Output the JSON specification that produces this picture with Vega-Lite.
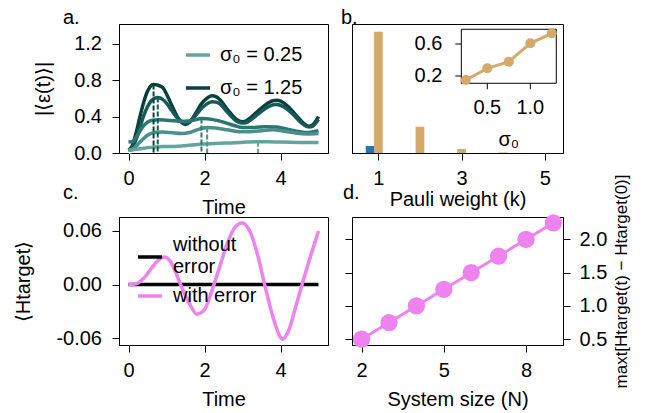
{
  "$schema": "https://vega.github.io/schema/vega-lite/v6.json",
  "background": "white",
  "padding": {"left": 13, "top": 7, "right": 0, "bottom": 0},
  "config": {
    "font": "Liberation Sans",
    "view": {"stroke": "black", "strokeWidth": 1},
    "axis": {"grid": false, "domainColor": "black", "tickColor": "black", "tickSize": 7, "tickWidth": 1, "labelFontSize": 20, "titleFontSize": 20, "labelColor": "black", "titleColor": "black", "titleFontWeight": "normal", "labelPadding": 10.5, "labelFont": "Liberation Sans", "titleFont": "Liberation Sans", "labelFlush": false, "labelOverlap": false},
    "axisX": {"labelPadding": 8.5},
    "legend": {"labelFontSize": 20, "labelFont": "Liberation Sans", "labelColor": "black", "padding": 0},
    "title": {"fontSize": 20, "fontWeight": "normal", "color": "black", "anchor": "start", "font": "Liberation Sans"}
  },
  "datasets": {
    "eps": [
      {"s":"1.25","t":0,"v":0.03},{"s":"1.25","t":0.1,"v":0.08},{"s":"1.25","t":0.2,"v":0.22},{"s":"1.25","t":0.3,"v":0.40},{"s":"1.25","t":0.4,"v":0.56},{"s":"1.25","t":0.5,"v":0.68},{"s":"1.25","t":0.6,"v":0.745},{"s":"1.25","t":0.66,"v":0.755},{"s":"1.25","t":0.75,"v":0.75},{"s":"1.25","t":0.9,"v":0.72},{"s":"1.25","t":1.0,"v":0.65},{"s":"1.25","t":1.1,"v":0.56},{"s":"1.25","t":1.2,"v":0.47},{"s":"1.25","t":1.3,"v":0.39},{"s":"1.25","t":1.4,"v":0.335},{"s":"1.25","t":1.5,"v":0.315},{"s":"1.25","t":1.6,"v":0.335},{"s":"1.25","t":1.7,"v":0.39},{"s":"1.25","t":1.8,"v":0.46},{"s":"1.25","t":1.9,"v":0.53},{"s":"1.25","t":2.0,"v":0.58},{"s":"1.25","t":2.1,"v":0.615},{"s":"1.25","t":2.2,"v":0.63},{"s":"1.25","t":2.3,"v":0.62},{"s":"1.25","t":2.4,"v":0.59},{"s":"1.25","t":2.5,"v":0.54},{"s":"1.25","t":2.6,"v":0.48},{"s":"1.25","t":2.7,"v":0.43},{"s":"1.25","t":2.8,"v":0.385},{"s":"1.25","t":2.9,"v":0.355},{"s":"1.25","t":3.0,"v":0.345},{"s":"1.25","t":3.1,"v":0.355},{"s":"1.25","t":3.2,"v":0.385},{"s":"1.25","t":3.4,"v":0.46},{"s":"1.25","t":3.6,"v":0.53},{"s":"1.25","t":3.8,"v":0.575},{"s":"1.25","t":3.9,"v":0.58},{"s":"1.25","t":4.0,"v":0.57},{"s":"1.25","t":4.2,"v":0.51},{"s":"1.25","t":4.4,"v":0.42},{"s":"1.25","t":4.6,"v":0.33},{"s":"1.25","t":4.75,"v":0.295},{"s":"1.25","t":4.85,"v":0.31},{"s":"1.25","t":5.0,"v":0.40},
      {"s":"1.0","t":0,"v":0.03},{"s":"1.0","t":0.1,"v":0.06},{"s":"1.0","t":0.2,"v":0.15},{"s":"1.0","t":0.3,"v":0.28},{"s":"1.0","t":0.4,"v":0.41},{"s":"1.0","t":0.5,"v":0.51},{"s":"1.0","t":0.6,"v":0.575},{"s":"1.0","t":0.7,"v":0.605},{"s":"1.0","t":0.77,"v":0.61},{"s":"1.0","t":0.9,"v":0.59},{"s":"1.0","t":1.0,"v":0.55},{"s":"1.0","t":1.1,"v":0.49},{"s":"1.0","t":1.2,"v":0.43},{"s":"1.0","t":1.3,"v":0.38},{"s":"1.0","t":1.4,"v":0.345},{"s":"1.0","t":1.5,"v":0.33},{"s":"1.0","t":1.6,"v":0.34},{"s":"1.0","t":1.7,"v":0.38},{"s":"1.0","t":1.8,"v":0.43},{"s":"1.0","t":1.9,"v":0.48},{"s":"1.0","t":2.0,"v":0.52},{"s":"1.0","t":2.1,"v":0.55},{"s":"1.0","t":2.2,"v":0.565},{"s":"1.0","t":2.3,"v":0.56},{"s":"1.0","t":2.4,"v":0.54},{"s":"1.0","t":2.5,"v":0.50},{"s":"1.0","t":2.6,"v":0.45},{"s":"1.0","t":2.7,"v":0.405},{"s":"1.0","t":2.8,"v":0.365},{"s":"1.0","t":2.9,"v":0.34},{"s":"1.0","t":3.0,"v":0.33},{"s":"1.0","t":3.1,"v":0.335},{"s":"1.0","t":3.2,"v":0.36},{"s":"1.0","t":3.4,"v":0.425},{"s":"1.0","t":3.6,"v":0.49},{"s":"1.0","t":3.8,"v":0.53},{"s":"1.0","t":3.9,"v":0.535},{"s":"1.0","t":4.0,"v":0.525},{"s":"1.0","t":4.2,"v":0.475},{"s":"1.0","t":4.4,"v":0.395},{"s":"1.0","t":4.6,"v":0.315},{"s":"1.0","t":4.75,"v":0.285},{"s":"1.0","t":4.85,"v":0.295},{"s":"1.0","t":5.0,"v":0.37},
      {"s":"0.75","t":0,"v":0.12},{"s":"0.75","t":0.1,"v":0.125},{"s":"0.75","t":0.2,"v":0.17},{"s":"0.75","t":0.3,"v":0.24},{"s":"0.75","t":0.4,"v":0.30},{"s":"0.75","t":0.5,"v":0.34},{"s":"0.75","t":0.6,"v":0.358},{"s":"0.75","t":0.8,"v":0.365},{"s":"0.75","t":1.0,"v":0.36},{"s":"0.75","t":1.2,"v":0.355},{"s":"0.75","t":1.4,"v":0.35},{"s":"0.75","t":1.5,"v":0.35},{"s":"0.75","t":1.7,"v":0.36},{"s":"0.75","t":1.92,"v":0.38},{"s":"0.75","t":2.2,"v":0.37},{"s":"0.75","t":2.5,"v":0.34},{"s":"0.75","t":2.8,"v":0.30},{"s":"0.75","t":3.0,"v":0.28},{"s":"0.75","t":3.3,"v":0.28},{"s":"0.75","t":3.6,"v":0.29},{"s":"0.75","t":3.9,"v":0.285},{"s":"0.75","t":4.2,"v":0.26},{"s":"0.75","t":4.5,"v":0.235},{"s":"0.75","t":4.7,"v":0.225},{"s":"0.75","t":5.0,"v":0.245},
      {"s":"0.5","t":0,"v":0.03},{"s":"0.5","t":0.1,"v":0.04},{"s":"0.5","t":0.2,"v":0.075},{"s":"0.5","t":0.3,"v":0.12},{"s":"0.5","t":0.4,"v":0.16},{"s":"0.5","t":0.5,"v":0.195},{"s":"0.5","t":0.7,"v":0.225},{"s":"0.5","t":0.9,"v":0.23},{"s":"0.5","t":1.1,"v":0.225},{"s":"0.5","t":1.4,"v":0.215},{"s":"0.5","t":1.6,"v":0.225},{"s":"0.5","t":1.8,"v":0.255},{"s":"0.5","t":2.07,"v":0.28},{"s":"0.5","t":2.3,"v":0.275},{"s":"0.5","t":2.6,"v":0.255},{"s":"0.5","t":2.9,"v":0.235},{"s":"0.5","t":3.2,"v":0.235},{"s":"0.5","t":3.5,"v":0.245},{"s":"0.5","t":3.8,"v":0.255},{"s":"0.5","t":4.1,"v":0.24},{"s":"0.5","t":4.4,"v":0.22},{"s":"0.5","t":4.7,"v":0.21},{"s":"0.5","t":5.0,"v":0.215},
      {"s":"0.25","t":0,"v":0.03},{"s":"0.25","t":0.2,"v":0.04},{"s":"0.25","t":0.4,"v":0.052},{"s":"0.25","t":0.6,"v":0.062},{"s":"0.25","t":0.8,"v":0.068},{"s":"0.25","t":1.0,"v":0.071},{"s":"0.25","t":1.3,"v":0.075},{"s":"0.25","t":1.6,"v":0.085},{"s":"0.25","t":2.0,"v":0.1},{"s":"0.25","t":2.4,"v":0.107},{"s":"0.25","t":2.8,"v":0.113},{"s":"0.25","t":3.1,"v":0.12},{"s":"0.25","t":3.41,"v":0.125},{"s":"0.25","t":3.7,"v":0.124},{"s":"0.25","t":4.0,"v":0.12},{"s":"0.25","t":4.5,"v":0.116},{"s":"0.25","t":5.0,"v":0.115}
    ],
    "peaks": [
      {"s":"0.25","t":3.41,"v":0.125},{"s":"0.5","t":2.07,"v":0.28},{"s":"0.75","t":1.92,"v":0.38},{"s":"1.0","t":0.77,"v":0.61},{"s":"1.25","t":0.66,"v":0.755}
    ],
    "bars": [
      {"x":0.8,"g":"s1","v":0.054},{"x":1,"g":"s2","v":0.94},{"x":2,"g":"s2","v":0.204},{"x":3,"g":"s2","v":0.031},{"x":4,"g":"s2","v":0.004}
    ],
    "inset": [
      {"s":0.25,"v":0.15},{"s":0.5,"v":0.296},{"s":0.75,"v":0.379},{"s":1.0,"v":0.609},{"s":1.25,"v":0.734}
    ],
    "insetx": [{"tick":0.5},{"tick":1.0}],
    "insety": [{"tick":0.2},{"tick":0.6}],
    "H": [
      {"series":"without error","t":0,"v":0},{"series":"without error","t":5,"v":0},
      {"series":"with error","t":0,"v":0},{"series":"with error","t":0.2,"v":0.001},{"series":"with error","t":0.4,"v":0.007},{"series":"with error","t":0.6,"v":0.018},{"series":"with error","t":0.8,"v":0.028},{"series":"with error","t":0.95,"v":0.031},{"series":"with error","t":1.1,"v":0.026},{"series":"with error","t":1.2,"v":0.018},{"series":"with error","t":1.4,"v":-0.003},{"series":"with error","t":1.6,"v":-0.021},{"series":"with error","t":1.8,"v":-0.033},{"series":"with error","t":2.0,"v":-0.028},{"series":"with error","t":2.2,"v":-0.006},{"series":"with error","t":2.4,"v":0.02},{"series":"with error","t":2.6,"v":0.046},{"series":"with error","t":2.8,"v":0.064},{"series":"with error","t":3.0,"v":0.069},{"series":"with error","t":3.2,"v":0.059},{"series":"with error","t":3.4,"v":0.033},{"series":"with error","t":3.6,"v":-0.003},{"series":"with error","t":3.8,"v":-0.036},{"series":"with error","t":4.0,"v":-0.059},{"series":"with error","t":4.05,"v":-0.061},{"series":"with error","t":4.2,"v":-0.053},{"series":"with error","t":4.4,"v":-0.025},{"series":"with error","t":4.6,"v":0.005},{"series":"with error","t":4.8,"v":0.033},{"series":"with error","t":5.0,"v":0.06}
    ],
    "N": [
      {"N":2,"v":0.5},{"N":3,"v":0.75},{"N":4,"v":1.0},{"N":5,"v":1.25},{"N":6,"v":1.5},{"N":7,"v":1.75},{"N":8,"v":2.0},{"N":9,"v":2.25}
    ]
  },
  "columns": 2,
  "spacing": {"row": 64, "column": 24},
  "bounds": "flush",
  "resolve": {"scale": {"color": "independent", "x": "independent", "y": "independent"}},
  "concat": [
    {
      "width": 209, "height": 129,
      "title": {"text": "a.", "dx": -56, "offset": -20, "baseline": "alphabetic", "frame": "group"},
      "data": {"name": "eps"},
      "layer": [
        {
          "mark": {"type": "line", "color": "white", "strokeWidth": 6.5, "interpolate": "monotone"},
          "encoding": {
            "x": {"field": "t", "type": "quantitative", "scale": {"domain": [-0.25, 5.25], "nice": false, "zero": false}, "axis": {"values": [0, 2, 4], "title": "Time", "titlePadding": 9}},
            "y": {"field": "v", "type": "quantitative", "scale": {"domain": [0, 1.42], "nice": false}, "axis": {"values": [0, 0.4, 0.8, 1.2], "format": ".1f", "title": "|⟨ε(t)⟩|", "titlePadding": 20}},
            "detail": {"field": "s"}
          }
        },
        {
          "mark": {"type": "line", "strokeWidth": 3.5, "interpolate": "monotone"},
          "encoding": {
            "x": {"field": "t", "type": "quantitative"},
            "y": {"field": "v", "type": "quantitative"},
            "color": {"field": "s", "type": "nominal",
              "scale": {"domain": ["0.25", "0.5", "0.75", "1.0", "1.25"], "range": ["#66a39d", "#4a8f89", "#2b7770", "#155a54", "#0a403c"]},
              "legend": {"orient": "none", "legendX": 65, "legendY": 17, "values": ["0.25", "1.25"], "title": null, "symbolType": "stroke", "symbolStrokeWidth": 3.5, "symbolSize": 576, "rowPadding": 9, "labelOffset": 8, "labelExpr": "datum.label == '0.25' ? 'σ₀ = 0.25' : 'σ₀ =  1.25'"}}
          }
        },
        {
          "data": {"name": "peaks"},
          "mark": {"type": "rule", "strokeWidth": 2, "strokeDash": [5, 2]},
          "encoding": {
            "x": {"field": "t", "type": "quantitative"},
            "y": {"field": "v", "type": "quantitative"},
            "y2": {"datum": 0},
            "color": {"field": "s", "type": "nominal"}
          }
        }
      ]
    },
    {
      "width": 211, "height": 129,
      "title": {"text": "b.", "dx": -11, "offset": -20, "baseline": "alphabetic", "frame": "group"},
      "resolve": {"scale": {"x": "independent", "y": "independent"}},
      "layer": [
        {
          "data": {"name": "bars"},
          "mark": {"type": "bar", "size": 8.7},
          "encoding": {
            "x": {"field": "x", "type": "quantitative", "scale": {"domain": [0.485, 5.32], "nice": false, "zero": false}, "axis": {"values": [1, 3, 5], "title": "Pauli weight (k)", "titlePadding": 0.5}},
            "y": {"field": "v", "type": "quantitative", "scale": {"domain": [0, 1], "nice": false}, "axis": {"labels": false, "ticks": false, "title": null}},
            "color": {"field": "g", "type": "nominal", "scale": {"domain": ["s1", "s2"], "range": ["#1f77b4", "#d4a96a"]}, "legend": null}
          }
        },
        {
          "layer": [
            {
              "data": {"values": [{}]},
              "mark": {"type": "rect", "fill": "white", "stroke": "black", "strokeWidth": 1},
              "encoding": {
                "x": {"datum": 0.198, "type": "quantitative", "scale": {"domain": [-1.073, 1.38], "nice": false, "zero": false}, "axis": null},
                "x2": {"datum": 1.302},
                "y": {"datum": 0.109, "type": "quantitative", "scale": {"domain": [-0.7625, 0.85], "nice": false, "zero": false}, "axis": null},
                "y2": {"datum": 0.784}
              }
            },
            {
              "data": {"name": "insetx"},
              "mark": {"type": "rule", "color": "black", "strokeWidth": 1},
              "encoding": {
                "x": {"field": "tick", "type": "quantitative"},
                "y": {"datum": 0.109, "type": "quantitative"},
                "y2": {"datum": 0.034}
              }
            },
            {
              "data": {"name": "insetx"},
              "mark": {"type": "text", "fontSize": 20, "baseline": "middle", "align": "center", "dy": 25},
              "encoding": {
                "x": {"field": "tick", "type": "quantitative"},
                "y": {"datum": 0.109, "type": "quantitative"},
                "text": {"field": "tick", "format": ".1f"}
              }
            },
            {
              "data": {"name": "insety"},
              "mark": {"type": "rule", "color": "black", "strokeWidth": 1},
              "encoding": {
                "y": {"field": "tick", "type": "quantitative"},
                "x": {"datum": 0.198, "type": "quantitative"},
                "x2": {"datum": 0.128}
              }
            },
            {
              "data": {"name": "insety"},
              "mark": {"type": "text", "fontSize": 20, "baseline": "middle", "align": "right", "dx": -19},
              "encoding": {
                "y": {"field": "tick", "type": "quantitative"},
                "x": {"datum": 0.198, "type": "quantitative"},
                "text": {"field": "tick", "format": ".1f"}
              }
            },
            {
              "data": {"values": [{}]},
              "mark": {"type": "text", "fontSize": 20, "baseline": "middle", "align": "center", "dy": 57, "text": "σ₀"},
              "encoding": {
                "x": {"datum": 0.75, "type": "quantitative"},
                "y": {"datum": 0.109, "type": "quantitative"}
              }
            },
            {
              "data": {"name": "inset"},
              "mark": {"type": "line", "color": "#d4a96a", "strokeWidth": 3, "point": {"filled": true, "size": 100, "color": "#d4a96a"}},
              "encoding": {
                "x": {"field": "s", "type": "quantitative"},
                "y": {"field": "v", "type": "quantitative"}
              }
            }
          ]
        }
      ]
    },
    {
      "width": 209, "height": 128,
      "title": {"text": "c.", "dx": -56, "offset": -3, "baseline": "alphabetic", "frame": "group"},
      "data": {"name": "H"},
      "layer": [
        {
          "transform": [{"filter": "datum.series == 'without error'"}],
          "mark": {"type": "line", "strokeWidth": 3.5},
          "encoding": {
            "x": {"field": "t", "type": "quantitative", "scale": {"domain": [-0.25, 5.25], "nice": false, "zero": false}, "axis": {"values": [0, 2, 4], "title": "Time", "titlePadding": 9}},
            "y": {"field": "v", "type": "quantitative", "scale": {"domain": [-0.0675, 0.0756], "nice": false, "zero": false}, "axis": {"values": [-0.06, 0, 0.06], "labelExpr": "replace(format(datum.value, '.2f'), '−', '-')", "title": "⟨Htarget⟩", "titlePadding": 22}},
            "color": {"field": "series", "type": "nominal",
              "scale": {"domain": ["without error", "with error"], "range": ["black", "violet"]},
              "legend": {"orient": "none", "legendX": 17, "legendY": 26, "title": null, "symbolType": "stroke", "symbolStrokeWidth": 3.5, "symbolSize": 576, "rowPadding": 5, "labelOffset": 9,
                "labelExpr": "datum.label == 'without error' ? ['without', 'error'] : datum.label",
                "encode": {"labels": {"update": {"dy": {"signal": "datum.value == 'without error' ? -12 : 0"}}}}}}
          }
        },
        {
          "transform": [{"filter": "datum.series == 'with error'"}],
          "mark": {"type": "line", "strokeWidth": 3.5, "interpolate": "monotone"},
          "encoding": {
            "x": {"field": "t", "type": "quantitative"},
            "y": {"field": "v", "type": "quantitative"},
            "color": {"field": "series", "type": "nominal"}
          }
        }
      ]
    },
    {
      "width": 211, "height": 128,
      "title": {"text": "d.", "dx": -9, "offset": -45, "baseline": "alphabetic", "frame": "group"},
      "data": {"name": "N"},
      "resolve": {"scale": {"y": "independent"}},
      "layer": [
        {
          "mark": {"type": "point", "opacity": 0},
          "encoding": {
            "x": {"field": "N", "type": "quantitative", "scale": {"domain": [1.65, 9.35], "nice": false, "zero": false}, "axis": {"values": [2, 5, 8], "title": "System size (N)", "titlePadding": 9}},
            "y": {"field": "v", "type": "quantitative", "scale": {"domain": [0.4125, 2.3375], "nice": false, "zero": false}, "axis": {"orient": "left", "values": [0.5, 1, 1.5, 2], "labels": false, "title": null}}
          }
        },
        {
          "mark": {"type": "line", "color": "violet", "strokeWidth": 3, "point": {"filled": true, "size": 300, "color": "violet", "opacity": 1}},
          "encoding": {
            "x": {"field": "N", "type": "quantitative"},
            "y": {"field": "v", "type": "quantitative", "scale": {"domain": [0.4125, 2.3375], "nice": false, "zero": false}, "axis": {"orient": "right", "values": [0.5, 1, 1.5, 2], "format": ".1f", "title": "maxt[Htarget(t) − Htarget(0)]", "titleAngle": 270, "titleFontSize": 17, "titlePadding": 24, "labelPadding": 9}}
          }
        }
      ]
    }
  ]
}
